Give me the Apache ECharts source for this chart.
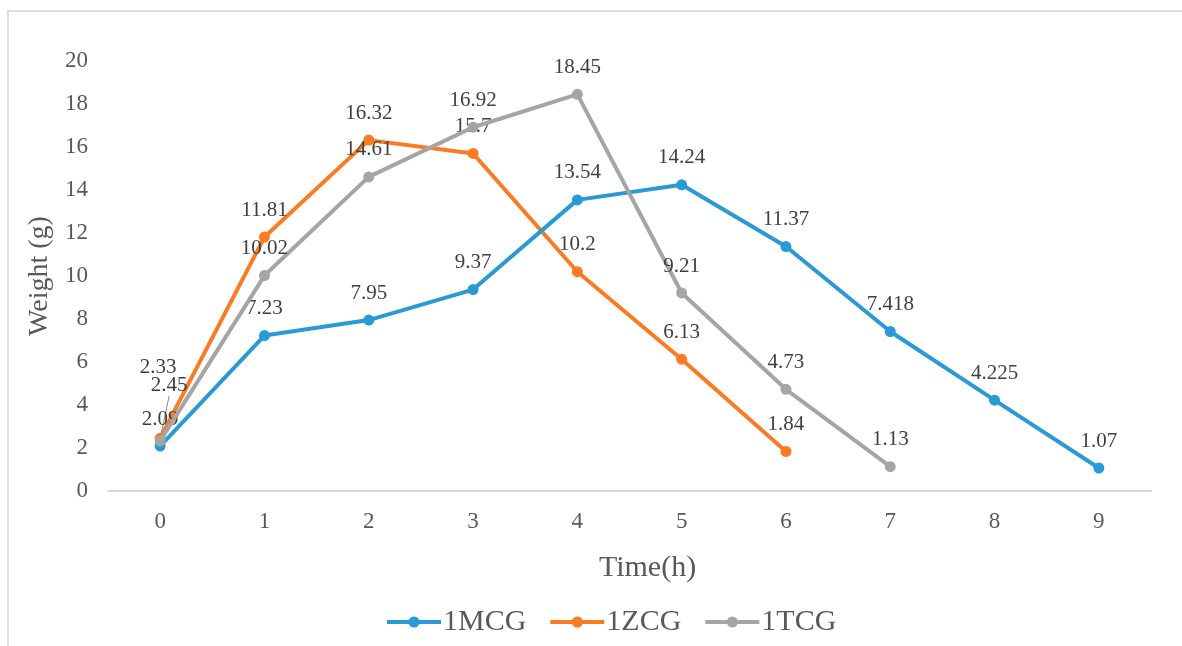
<!DOCTYPE html>
<html>
<head>
<meta charset="utf-8">
<script src="https://cdn.jsdelivr.net/npm/echarts@6/dist/echarts.min.js"></script>
<style>
  html, body { margin: 0; padding: 0; background: #fff; overflow: hidden; }
  #frame { position: absolute; left: 7px; top: 10px; width: 1300px; height: 800px;
           border: 2px solid #dedede; box-sizing: border-box; }
  #chart { position: absolute; left: 0; top: 0; width: 1182px; height: 646px; }
</style>
</head>
<body>
<div id="frame"></div>
<div id="chart"></div>
<script>
// Time points (h)
const hours = ['0', '1', '2', '3', '4', '5', '6', '7', '8', '9'];
// Weight (g) per group
const mcg = [2.09, 7.23, 7.95, 9.37, 13.54, 14.24, 11.37, 7.418, 4.225, 1.07];
const zcg = [2.45, 11.81, 16.32, 15.7, 10.2, 6.13, 1.84];
const tcg = [2.33, 10.02, 14.61, 16.92, 18.45, 9.21, 4.73, 1.13];
const seriesNames = ['1MCG', '1ZCG', '1TCG'];
const colors = ['#2a9ad6', '#fb7b22', '#a5a5a5'];

const serif = '"Liberation Serif", "DejaVu Serif", serif';

// label nudges for the crowded points at t = 0
const nudges = {
  '1ZCG': { 0: { dx: 9, dy: -26, line: true } },
  '1TCG': { 0: { dx: -2, dy: -46 } }
};

function makeSeries(name, values, color) {
  const moved = nudges[name] || {};
  return {
    name: name,
    type: 'line',
    data: values.map(function (v, i) {
      const n = moved[i];
      return (n && n.line) ? { value: v, labelLine: { show: true } } : v;
    }),
    color: color,
    symbol: 'circle',
    symbolSize: 11,
    lineStyle: { width: 4, color: color },
    itemStyle: { color: color },
    label: {
      show: true,
      position: 'top',
      distance: 11,
      fontFamily: serif,
      fontSize: 21,
      color: '#404040'
    },
    labelLine: { show: false, lineStyle: { color: '#8a8a8a', width: 1 } },
    labelLayout: function (p) {
      const n = moved[p.dataIndex];
      if (!n) return {};
      return { dx: n.dx, dy: n.dy };
    },
    z: name === '1MCG' ? 3 : (name === '1ZCG' ? 2 : 4)
  };
}

const chart = echarts.init(document.getElementById('chart'), null, { renderer: 'canvas' });
chart.setOption({
  animation: false,
  textStyle: { fontFamily: serif },
  grid: { left: 108, right: 31, top: 61, bottom: 155 },
  legend: {
    bottom: 4,
    left: 380,
    itemWidth: 54,
    itemHeight: 14,
    itemGap: 22,
    lineStyle: { width: 4 },
    textStyle: { fontFamily: serif, fontSize: 30, color: '#595959', padding: [0, 0, 0, -3] },
    data: seriesNames
  },
  xAxis: {
    type: 'category',
    data: hours,
    boundaryGap: true,
    name: 'Time(h)',
    nameLocation: 'middle',
    nameGap: 62,
    nameTextStyle: { fontFamily: serif, fontSize: 30, color: '#595959', padding: [0, 0, 0, 36] },
    axisLine: { lineStyle: { color: '#d9d9d9', width: 2 } },
    axisTick: { show: false },
    axisLabel: { fontFamily: serif, fontSize: 23, color: '#595959', margin: 19 }
  },
  yAxis: {
    type: 'value',
    min: 0,
    max: 20,
    interval: 2,
    name: 'Weight (g)',
    nameLocation: 'middle',
    nameGap: 53,
    nameRotate: 90,
    nameTextStyle: { fontFamily: serif, fontSize: 28, color: '#595959' },
    axisLine: { show: false },
    axisTick: { show: false },
    splitLine: { show: false },
    axisLabel: { fontFamily: serif, fontSize: 23, color: '#595959', margin: 20 }
  },
  series: [
    makeSeries(seriesNames[0], mcg, colors[0]),
    makeSeries(seriesNames[1], zcg, colors[1]),
    makeSeries(seriesNames[2], tcg, colors[2])
  ]
});
</script>
</body>
</html>
